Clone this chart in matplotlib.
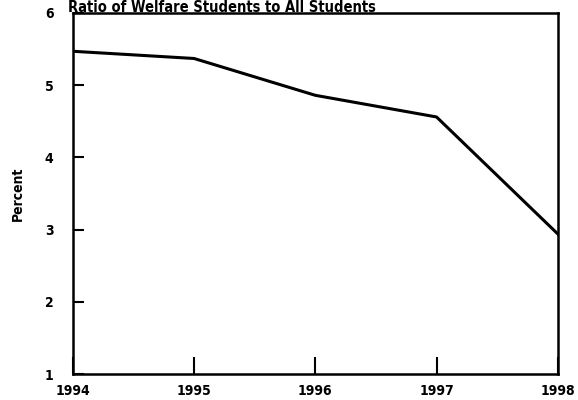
import matplotlib.pyplot as plt

years = [1994, 1995, 1996, 1997, 1998]
ratio = [5.47, 5.37, 4.86, 4.56, 2.94]
yticks = [1, 2, 3, 4, 5, 6]

plt.rcParams['font.family'] = ['DejaVu Sans']
plt.rcParams['font.stretch'] = 'condensed'
plt.rcParams['font.weight'] = 'bold'

fig = plt.figure(figsize=(5.78, 4.0), dpi=100)
ax = fig.add_axes([0.126, 0.065, 0.839, 0.9025])

ax.plot(years, ratio, color='black', lw=2.2)
ax.set_xlim(1994, 1998)
ax.set_ylim(1, 6)
ax.set_xticks(years)
ax.set_yticks(yticks)
ax.tick_params(axis='both', direction='in', labelsize=10, width=1.5)
ax.tick_params(axis='x', length=12, pad=7)
ax.tick_params(axis='y', length=8, pad=14)
for s in ax.spines.values():
    s.set_linewidth(1.8)

ax.set_ylabel('Percent', fontsize=10, fontweight='bold', labelpad=14)
fig.text(0.117, 1.0, 'Ratio of Welfare Students to All Students', ha='left', va='top',
         fontsize=10.5, fontweight='bold')

fig.savefig('out.png', dpi=100)
